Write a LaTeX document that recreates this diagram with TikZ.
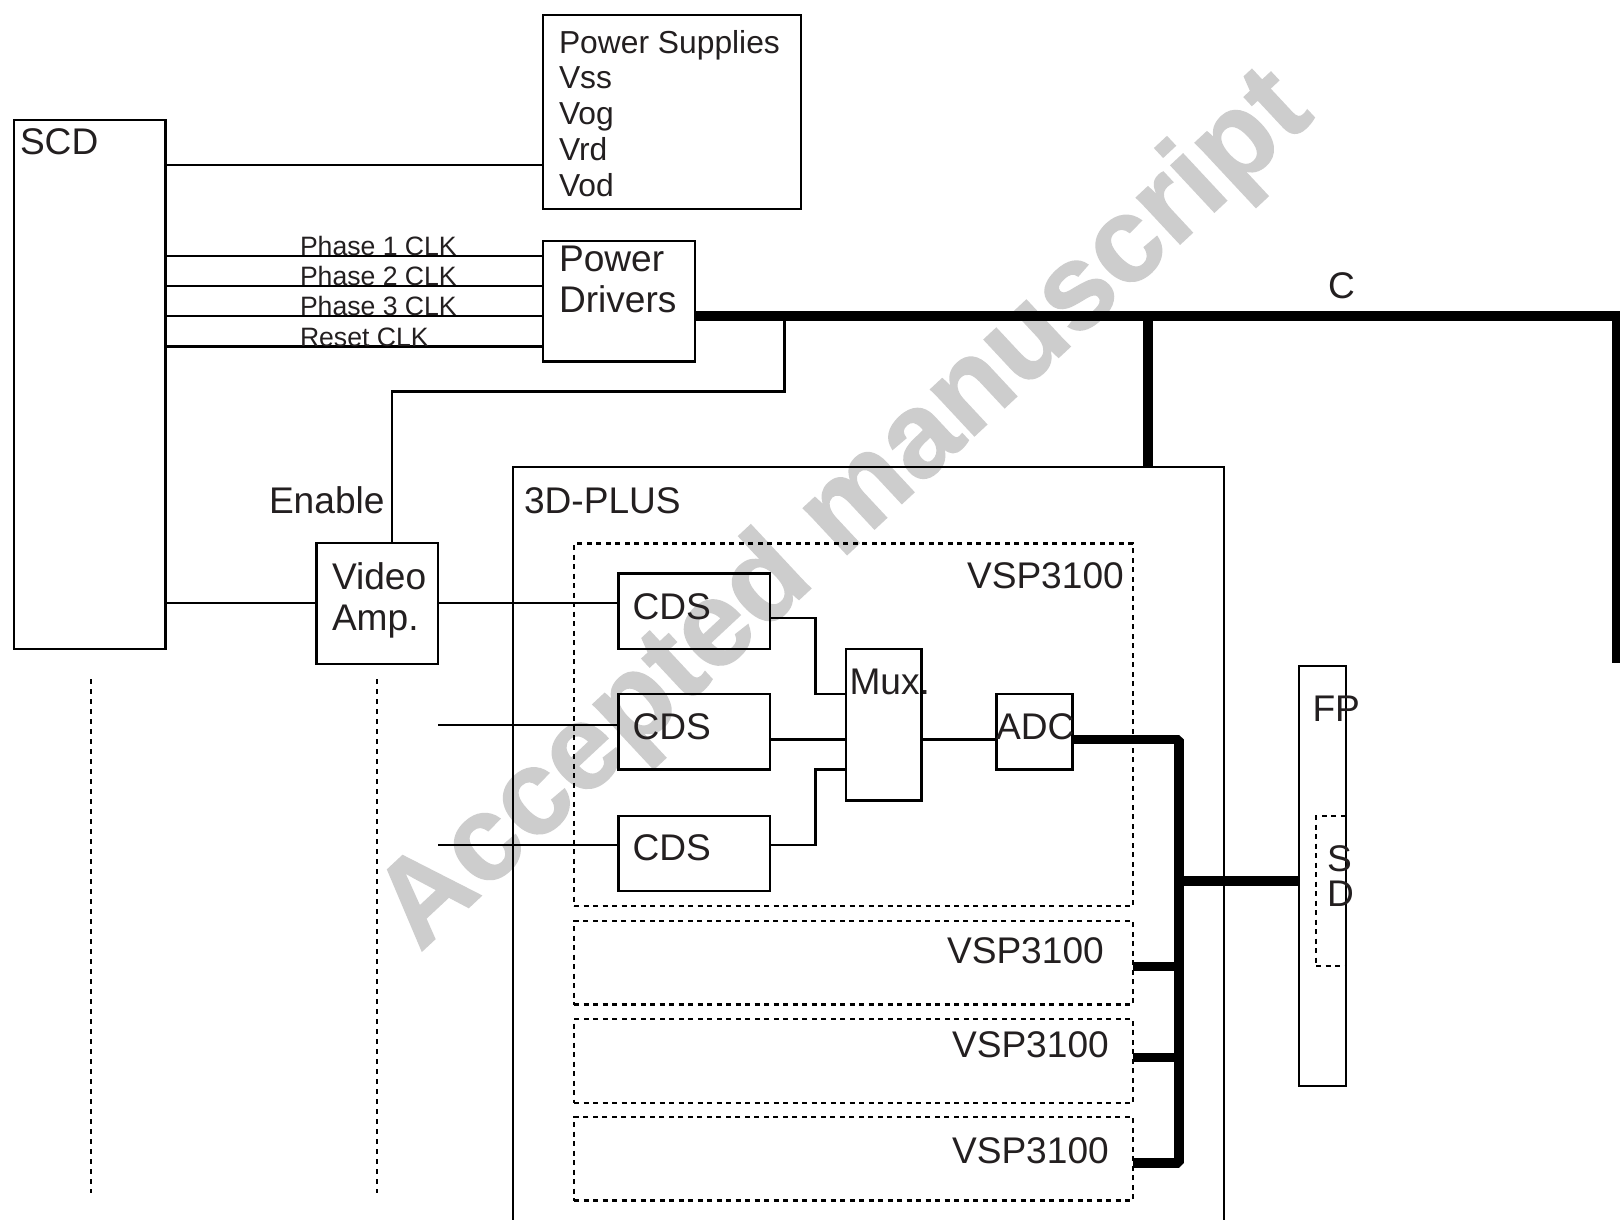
\documentclass[tikz,border=0pt]{standalone}
\usepackage{fontspec}
\setmainfont{Liberation Sans}
\newfontfamily\wmfont{Liberation Sans Bold}[FakeBold=1.2]
\definecolor{wm}{HTML}{CDCDCD}
\definecolor{ink}{HTML}{231F20}
\newcommand{\bx}[6][boxed]{\node[#1,minimum width=#5pt-#3pt,minimum height=#6pt-#4pt] (#2) at ({(#3+#5)/2},{(#4+#6)/2}) {};}
\tikzset{
  boxed/.style={draw=black,line width=2.3pt,inner sep=0pt,outer sep=0pt,fill=none},
  dashbox/.style={boxed,dash pattern=on 5pt off 4.5pt},
  thin wire/.style={draw=black,line width=2.3pt},
  bus/.style={draw=black,line width=9.5pt,line join=bevel},
  dotwire/.style={draw=black,line width=2.4pt,dash pattern=on 5pt off 5pt},
  lab/.style={anchor=base west,inner sep=0pt,outer sep=0pt,text=ink,font=\fontsize{37.1}{40}\selectfont},
  smalllab/.style={lab,font=\fontsize{26.6}{30}\selectfont},
  pslab/.style={lab,font=\fontsize{31.8}{36}\selectfont},
  watermark/.style={anchor=base,inner sep=0pt,text=wm,font=\fontsize{120.5}{120}\wmfont,rotate=43}
}
\begin{document}
\begin{tikzpicture}[x=1pt,y=-1pt]
\useasboundingbox (0,0) rectangle (1620,1220);
\fill[white] (0,0) rectangle (1620,1220);
\node[watermark] (wmtext) at (868,535) {Accepted manuscript};
% boxes
\bx{scd}{14}{120}{165.5}{649}
\bx{ps}{543}{15}{801}{209}
\bx{pd}{543}{241}{695}{361.5}
\bx{va}{316.5}{543}{438}{664}
\bx{cdsa}{618.5}{573.5}{770}{649}
\bx{cdsb}{618.5}{694}{770}{769.5}
\bx{cdsc}{618.5}{816}{770}{891}
\bx{mux}{846}{649}{921.5}{800.5}
\bx{adc}{996.5}{694}{1072.5}{769.5}
\bx{fp}{1299}{666}{1346}{1086}
\bx[dashbox]{vspa}{574}{543.5}{1133}{906}
\bx[dashbox]{vspb}{574}{921}{1133}{1004.5}
\bx[dashbox]{vspc}{574}{1019}{1133}{1103}
\bx[dashbox]{vspd}{574}{1117}{1133}{1200.5}
\bx[dashbox]{sd}{1316}{816}{1346}{966}
% 3D-PLUS frame runs off the bottom of the picture
\coordinate (plusbl) at (513,1220);
\coordinate (plustl) at (513,467);
\coordinate (plustr) at (1224,467);
\coordinate (plusbr) at (1224,1220);
\draw[thin wire] (plusbl) -- (plustl) -- (plustr) -- (plusbr);
% free ends
\coordinate (cdsbin) at (438,725);
\coordinate (cdscin) at (438,845);
\coordinate (dotatop) at (91,679);
\coordinate (dotabot) at (91,1193);
\coordinate (dotbtop) at (377,679);
\coordinate (dotbbot) at (377,1193);
\coordinate (busturn) at (1617,316);
\coordinate (busend) at (1617,663);
\coordinate (enturn) at (784.5,391.5);
\coordinate (enbus) at (784.5,316);
\coordinate (plusbus) at (1148,316);
\coordinate (datatop) at (1179,739.5);
\coordinate (databot) at (1179,1163);
\coordinate (datamid) at (1179,881);
\coordinate (datab) at (1179,966.5);
\coordinate (datac) at (1179,1057.5);
% wires
\draw[thin wire] (scd.east |- 0,165) -- (ps.west |- 0,165);
\foreach \yy in {256,286,316,346.5}{\draw[thin wire] (scd.east |- 0,\yy) -- (pd.west |- 0,\yy);}
\draw[thin wire] (scd.east |- 0,603) -- (va.west |- 0,603);
\draw[thin wire] (va.east |- 0,603) -- (cdsa.west |- 0,603);
\draw[thin wire] (cdsbin) -- (cdsb.west |- cdsbin);
\draw[thin wire] (cdscin) -- (cdsc.west |- cdscin);
\draw[thin wire] (enbus) -- (enturn) -- (392,391.5) -- (va.north -| 392,0);
\draw[thin wire] (cdsa.east |- 0,618) -- (815.5,618) -- (815.5,694) -- (mux.west |- 0,694);
\draw[thin wire] (cdsb.east |- 0,739.5) -- (mux.west |- 0,739.5);
\draw[thin wire] (cdsc.east |- 0,845) -- (815.5,845) -- (815.5,769.5) -- (mux.west |- 0,769.5);
\draw[thin wire] (mux.east |- 0,739.5) -- (adc.west |- 0,739.5);
\draw[dotwire] (dotatop) -- (dotabot);
\draw[dotwire] (dotbtop) -- (dotbbot);
% buses
\draw[bus,line join=miter] (pd.east |- busturn) -- (busturn) -- (busend);
\draw[bus] (plusbus) -- (plustr -| plusbus);
\draw[bus] (adc.east |- datatop) -- (datatop) -- (databot) -- (vspd.east |- databot);
\draw[bus] (datab) -- (vspb.east |- datab);
\draw[bus] (datac) -- (vspc.east |- datac);
\draw[bus] (datamid) -- (fp.west |- datamid);
% labels
\node[lab] (tscd) at (20,154) {SCD};
\node[pslab] (tps) at (559,53.5) {Power Supplies};
\node[pslab] (tvss) at (559,89) {Vss};
\node[pslab] (tvog) at (559,125) {Vog};
\node[pslab] (tvrd) at (559,160.5) {Vrd};
\node[pslab] (tvod) at (559,196.5) {Vod};
\node[lab] (tpower) at (559,271) {Power};
\node[lab] (tdrivers) at (559,312) {Drivers};
\node[smalllab] (tpa) at (300,255) {Phase 1 CLK};
\node[smalllab] (tpb) at (300,285) {Phase 2 CLK};
\node[smalllab] (tpc) at (300,315) {Phase 3 CLK};
\node[smalllab] (trst) at (300,346) {Reset CLK};
\node[lab] (tc) at (1328,298) {C};
\node[lab] (tenable) at (269,513) {Enable};
\node[lab] (tplus) at (524,513) {3D-PLUS};
\node[lab] (tvideo) at (332,589) {Video};
\node[lab] (tamp) at (332,630) {Amp.};
\node[lab] (tca) at (632.5,619.5) {CDS};
\node[lab] (tcb) at (632.5,739) {CDS};
\node[lab] (tcc) at (632.5,860) {CDS};
\node[lab] (tmux) at (849.5,694) {Mux.};
\node[lab] (tadc) at (996,739) {ADC};
\node[lab] (tfp) at (1312.5,721) {FP};
\node[lab] (ts) at (1327,871) {S};
\node[lab] (td) at (1327,906) {D};
\node[lab] (tva) at (967,588) {VSP3100};
\node[lab] (tvb) at (947,963) {VSP3100};
\node[lab] (tvc) at (952,1057) {VSP3100};
\node[lab] (tvd) at (952,1163) {VSP3100};
\end{tikzpicture}
\end{document}
